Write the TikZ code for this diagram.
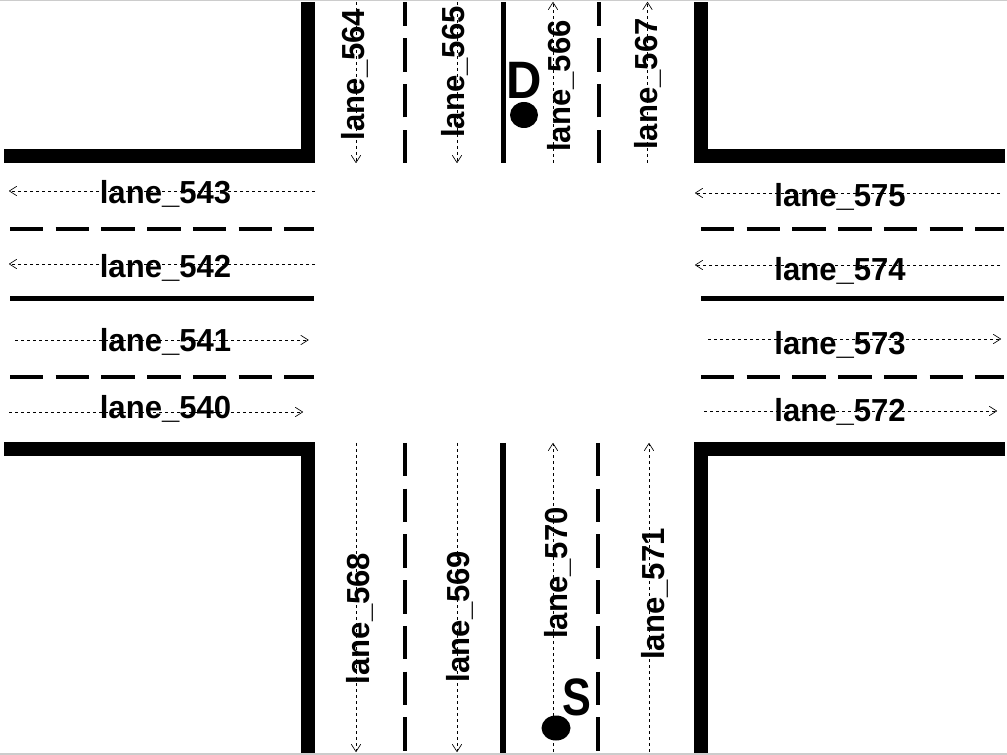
\documentclass[tikz,border=0pt]{standalone}
\usepackage{fontspec}
\setmainfont{Liberation Sans}
\usetikzlibrary{arrows.meta}
\newcommand{\lanetext}[1]{\scalebox{0.975}[1]{\bfseries lane\_#1}}
\tikzset{
  x=0.75pt,y=-0.75pt,
  wall/.style={line width=10.5pt,line cap=butt,line join=miter,draw=black},
  solidsep/.style={line width=4.4pt,line cap=butt,draw=black},
  dashsep/.style={line width=3.7pt,line cap=butt,draw=black,dash pattern=on 25.1pt off 9.2pt},
  lanearrow/.style={line width=0.6pt,draw=black,dash pattern=on 2.6pt off 1.9pt,
    -{Straight Barb[length=5.5pt,width=7pt,line width=0.5pt,round=false]}},
  lanelabel/.style={font=\fontsize{23.9pt}{24pt}\selectfont,inner sep=0pt,anchor=base},
  vlabel/.style={lanelabel,rotate=90},
  endlabel/.style={font=\bfseries\fontsize{39.5pt}{40pt}\selectfont,inner sep=0pt,anchor=base},
  edgeline/.style={fill=black!20,draw=none}
}
\begin{document}
\begin{tikzpicture}
\useasboundingbox (0,0) rectangle (1007,755);
\fill[white] (0,0) rectangle (1007,755);
\fill[edgeline] (0,0) rectangle (1007,1.3);
\fill[edgeline] (0,752.7) rectangle (1007,755);
% kerb walls
\coordinate (tlA) at (4,156); \coordinate (tlC) at (308,156); \coordinate (tlB) at (308,2);
\coordinate (trA) at (1005,156); \coordinate (trC) at (701,156); \coordinate (trB) at (701,2);
\coordinate (blA) at (4,449.5); \coordinate (blC) at (308,449.5); \coordinate (blB) at (308,752.5);
\coordinate (brA) at (1005,449.5); \coordinate (brC) at (701,449.5); \coordinate (brB) at (701,752.5);
\draw[wall] (tlA) -- (tlC) -- (tlB);
\draw[wall] (trA) -- (trC) -- (trB);
\draw[wall] (blA) -- (blC) -- (blB);
\draw[wall] (brA) -- (brC) -- (brB);
% lane separators
\foreach \n/\xa/\ya/\xb/\yb/\st in {
  h1/10/229/314/229/dashsep, h2/10/298.5/314/298.5/solidsep, h3/10/377/314/377/dashsep,
  h4/701/229/1004/229/dashsep, h5/701/298.5/1004/298.5/solidsep, h6/701/377/1004/377/dashsep,
  v1/405/163/405/2/dashsep, v2/503.5/163/503.5/2/solidsep, v3/599/163/599/2/dashsep,
  v4/405/443/405/752.5/dashsep, v5/503/443/503/752.5/solidsep, v6/598/443/598/752.5/dashsep}{
  \coordinate (s\n) at (\xa,\ya);
  \coordinate (e\n) at (\xb,\yb);
  \draw[\st] (s\n) -- (e\n);
}
% lane centre lines
\foreach \n/\xa/\ya/\xb/\yb in {
  543/315/191/9/191, 542/315/264/9/264, 541/15/340/308.5/340, 540/9/412/303/412,
  575/1000/193/695/193, 574/1000/265/695/265, 573/708/339/1001/339, 572/704/411/997/411,
  564/356/2/356/163, 565/457/2/457/163, 566/553/163/553/2, 567/647.5/163/647.5/2,
  568/356/443/356/752, 569/457/443/457/752, 570/553/752/553/443, 571/649/752/649/443}{
  \coordinate (from\n) at (\xa,\ya);
  \coordinate (to\n) at (\xb,\yb);
  \draw[lanearrow] (from\n) -- (to\n);
}
% labels
\foreach \n/\x/\y in {543/165.5/203.5, 542/165.5/277.5, 541/165.5/351.5, 540/165.5/418.5,
  575/840/206.5, 574/840/280.5, 573/840/354.5, 572/840/421.5}{
  \node[lanelabel] (lab\n) at (\x,\y) {\lanetext{\n}};
}
\foreach \n/\x/\y in {564/364.5/74.5, 565/464.5/72, 566/570.5/86, 567/657.5/84,
  568/369.5/618.5, 569/469.5/616.5, 570/567.5/573, 571/664.5/594}{
  \node[vlabel] (lab\n) at (\x,\y) {\lanetext{\n}};
}
% destination and source
\node[endlabel] (D) at (524,99) {\scalebox{0.93}[1]{D}};
\node[endlabel] (S) at (576.5,715) {\scalebox{0.82}[1]{S}};
\fill (524,115) ellipse [x radius=14,y radius=13];
\fill (556,728) ellipse [x radius=14.5,y radius=12.5];
\end{tikzpicture}
\end{document}
